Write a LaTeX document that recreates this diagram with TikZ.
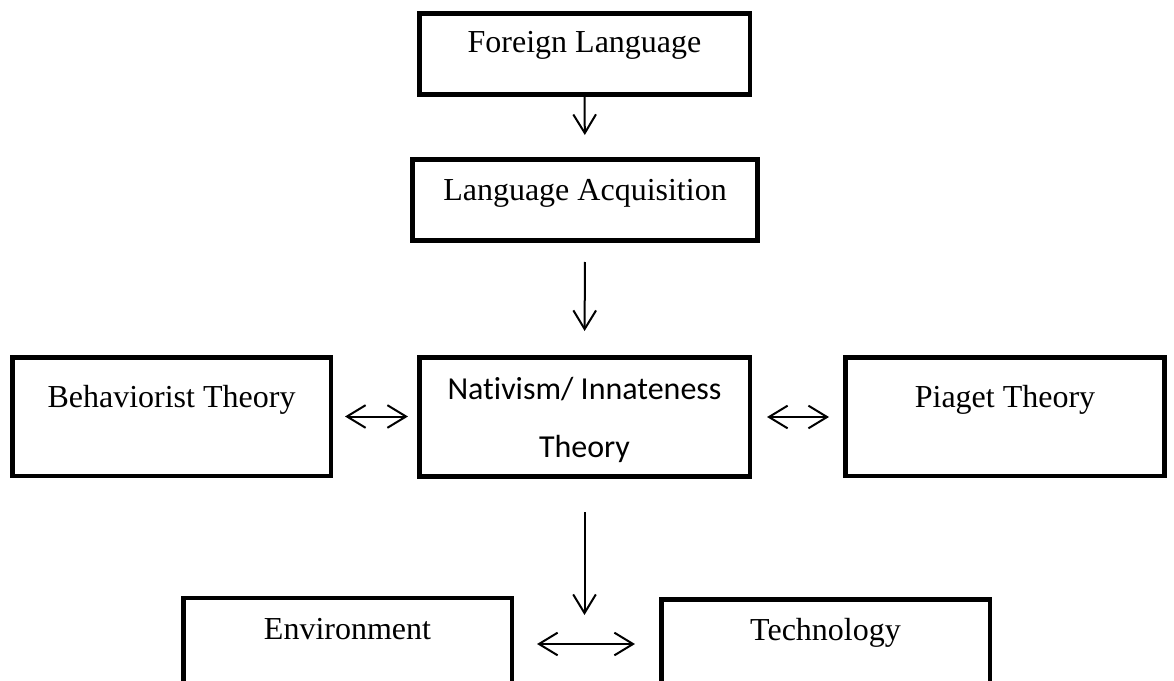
\documentclass[tikz,border=0pt]{standalone}
\usepackage{fontspec}
\setmainfont{Liberation Serif}
\newfontfamily\carlito[Ligatures=NoCommon]{Carlito}
\usepackage{tikz}
\usetikzlibrary{arrows.meta, positioning}

\tikzset{
    box/.style={draw, line width=3.4pt, inner sep=0pt},
    boxtext/.style={font=\fontsize{24}{29}\selectfont, anchor=base, inner sep=0pt},
    link/.style={line width=1.5pt},
}

\begin{document}
\begin{tikzpicture}[x=0.75pt, y=-0.75pt, >={Straight Barb[length=14pt, width=17pt]}]
    \useasboundingbox (0,0) rectangle (1174,681);
    \clip (0,0) rectangle (1174,681);

    % boxes (centres in px, sizes in pt)
    \node[box, minimum width=247.9pt, minimum height=61.1pt] (fl) at (584.5,54) {};
    \node[box, minimum width=259.1pt, minimum height=61.1pt] (la) at (585,200) {};
    \node[box, minimum width=238.9pt, minimum height=88.9pt] (bt) at (171.5,416.5) {};
    \node[box, minimum width=247.9pt, minimum height=89.6pt] (nt) at (584.5,417) {};
    \node[box, minimum width=239.6pt, minimum height=88.9pt] (piaget) at (1005,416.5) {};
    \node[box, minimum width=246.4pt, minimum height=65.1pt] (en) at (347.5,641.6) {};
    \node[box, minimum width=246.4pt, minimum height=64.3pt] (te) at (825.5,642.1) {};

    % texts
    \node[boxtext] (fltext) at (584.5,53) {Foreign Language};
    \node[boxtext] (latext) at (585,200) {Language Acquisition};
    \node[boxtext] (bttext) at (171.5,407) {Behaviorist Theory};
    \node[boxtext, font=\carlito\fontsize{24}{43.5}\selectfont, align=center] (nttext) at (584.5,457) {Nativism/ Innateness\\Theory};
    \node[boxtext] (piagettext) at (1005,407) {Piaget Theory};
    \node[boxtext] (entext) at (347.5,639) {Environment};
    \node[boxtext] (tetext) at (825.5,640) {Technology};

    \coordinate (down) at (584.5,615);

    \draw[link, ->, shorten >=16.5pt] (fl.south) -- (la.north);
    \draw[link, ->, shorten <=14.25pt, shorten >=18pt] (la.south) -- (nt.north);
    \draw[link, ->, shorten <=24.75pt] (nt.south) -- (down);

    \draw[link, <->, shorten <=9pt, shorten >=6.75pt] (bt.east) -- (bt.east -| nt.west);
    \draw[link, <->, shorten <=11.25pt, shorten >=10.5pt] (nt.east) -- (nt.east -| piaget.west);
    \draw[link, <->, shorten <=17.25pt, shorten >=18pt] (en.east |- 0,644) -- (te.west |- 0,644);
\end{tikzpicture}
\end{document}
